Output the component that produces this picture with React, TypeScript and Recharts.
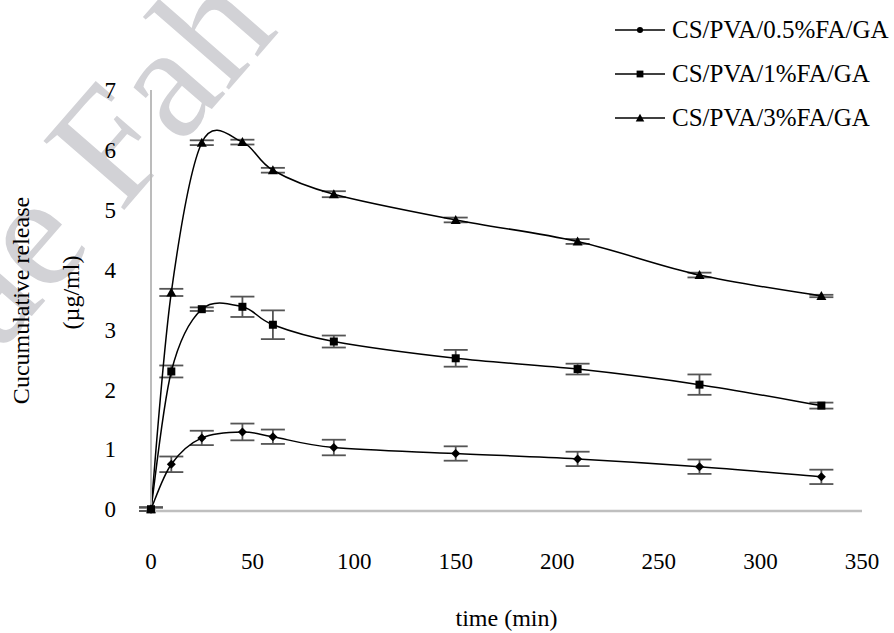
import React from 'react';
import { LineChart, Line, XAxis, YAxis, ErrorBar } from 'recharts';

// sampling times (min)
const times = [0, 10, 25, 45, 60, 90, 150, 210, 270, 330];

// cumulative release (µg/ml) and standard deviations
const fa05 = [0, 0.75, 1.19, 1.29, 1.21, 1.03, 0.93, 0.84, 0.71, 0.54];
const fa05Err = [0.03, 0.13, 0.12, 0.14, 0.12, 0.13, 0.12, 0.12, 0.12, 0.12];
const fa1 = [0, 2.3, 3.34, 3.38, 3.08, 2.8, 2.52, 2.34, 2.08, 1.73];
const fa1Err = [0.03, 0.1, 0.03, 0.17, 0.24, 0.1, 0.14, 0.09, 0.17, 0.05];
const fa3 = [0, 3.62, 6.12, 6.13, 5.66, 5.26, 4.83, 4.47, 3.91, 3.56];
const fa3Err = [0.03, 0.06, 0.04, 0.04, 0.04, 0.05, 0.04, 0.04, 0.04, 0.02];

const xTicks = [0, 50, 100, 150, 200, 250, 300, 350];
const yTicks = [0, 1, 2, 3, 4, 5, 6, 7];

const seriesNames = ['CS/PVA/0.5%FA/GA', 'CS/PVA/1%FA/GA', 'CS/PVA/3%FA/GA'];
const seriesShapes = ['circle', 'square', 'triangle'];

const rows = times.map((t, i) => ({
  time: t,
  fa05: fa05[i],
  fa05Err: fa05Err[i],
  fa1: fa1[i],
  fa1Err: fa1Err[i],
  fa3: fa3[i],
  fa3Err: fa3Err[i],
}));

const FONT = '"Liberation Serif", "Times New Roman", serif';

// Excel-like smoothed line (Catmull-Rom through the points)
const smoothCurve = (context: any) => {
  let pts: number[][] = [];
  return {
    areaStart() {},
    areaEnd() {},
    lineStart() {
      pts = [];
    },
    point(x: number, y: number) {
      pts.push([+x, +y]);
    },
    lineEnd() {
      if (!pts.length) return;
      context.moveTo(pts[0][0], pts[0][1]);
      for (let i = 0; i < pts.length - 1; i++) {
        const p0 = pts[Math.max(i - 1, 0)];
        const p1 = pts[i];
        const p2 = pts[i + 1];
        const p3 = pts[Math.min(i + 2, pts.length - 1)];
        context.bezierCurveTo(
          p1[0] + (p2[0] - p0[0]) / 6,
          p1[1] + (p2[1] - p0[1]) / 6,
          p2[0] - (p3[0] - p1[0]) / 6,
          p2[1] - (p3[1] - p1[1]) / 6,
          p2[0],
          p2[1]
        );
      }
    },
  };
};

const Marker = ({ shape, cx, cy, s = 1 }: { shape: string; cx: number; cy: number; s?: number }) => {
  if (shape === 'square') {
    const h = 4 * s;
    return <rect x={cx - h} y={cy - h} width={h * 2} height={h * 2} fill="#000" />;
  }
  if (shape === 'triangle') {
    const h = 5 * s;
    return <path d={`M${cx},${cy - h} L${cx + h},${cy + h * 0.8} L${cx - h},${cy + h * 0.8} Z`} fill="#000" />;
  }
  if (shape === 'circle') {
    return <circle cx={cx} cy={cy} r={3.6 * s} fill="#000" />;
  }
  const h = 4.5 * s;
  return <path d={`M${cx},${cy - h} L${cx + h},${cy} L${cx},${cy + h} L${cx - h},${cy} Z`} fill="#000" />;
};

const dotFor = (shape: string) => (p: any) => (
  <Marker key={`${shape}-${p.index}`} shape={shape} cx={p.cx} cy={p.cy} />
);

const YTitle = (props: any) => {
  const cy = props.viewBox.y + props.viewBox.height / 2;
  return (
    <g fontFamily={FONT} fontSize={24} fill="#000">
      <text x={29} y={cy} transform={`rotate(-90 29 ${cy})`} textAnchor="middle">
        Cucumulative release
      </text>
      <text x={79} y={cy - 8} transform={`rotate(-90 79 ${cy - 8})`} textAnchor="middle">
        (µg/ml)
      </text>
    </g>
  );
};

const XTitle = (props: any) => {
  const cx = props.viewBox.x + props.viewBox.width / 2;
  return (
    <text x={cx} y={626} textAnchor="middle" fontFamily={FONT} fontSize={24} fill="#000">
      time (min)
    </text>
  );
};

const legendY = [30, 74, 118];

export default function App() {
  return (
    <div style={{ position: 'absolute', left: 0, top: 0, width: 894, height: 633, background: '#fff' }}>
      {/* watermark */}
      <svg width={894} height={633} style={{ position: 'absolute', left: 0, top: 0 }}>
        <text
          x={-95}
          y={462}
          transform="rotate(-49 -95 462)"
          fontFamily={FONT}
          fontSize={162}
          fill="#d2d2d6"
        >
          Mae Fah Luang
        </text>
      </svg>
      <div style={{ position: 'absolute', left: 0, top: 0 }}>
        <LineChart width={894} height={633} data={rows} margin={{ top: 90, right: 32, bottom: 62, left: 91 }}>
          <XAxis
            dataKey="time"
            type="number"
            domain={[0, 350]}
            ticks={xTicks}
            height={60}
            axisLine={{ stroke: '#bfbfbf', strokeWidth: 2.5 }}
            tickLine={false}
            tickSize={0}
            tickMargin={42}
            tick={{ fill: '#000', fontSize: 23, fontFamily: FONT }}
            label={<XTitle />}
          />
          <YAxis
            type="number"
            domain={[0, 7]}
            ticks={yTicks}
            width={60}
            axisLine={{ stroke: '#bcbcbc', strokeWidth: 2 }}
            tickLine={false}
            tickSize={0}
            tickMargin={35}
            tick={{ fill: '#000', fontSize: 23, fontFamily: FONT }}
            label={<YTitle />}
          />
          <Line
            dataKey="fa05"
            type={smoothCurve as any}
            stroke="#000"
            strokeWidth={1.5}
            dot={dotFor('diamond')}
            activeDot={false}
            isAnimationActive={false}
          >
            <ErrorBar dataKey="fa05Err" width={12} stroke="#555" strokeWidth={1.8} direction="y" isAnimationActive={false} />
          </Line>
          <Line
            dataKey="fa1"
            type={smoothCurve as any}
            stroke="#000"
            strokeWidth={1.5}
            dot={dotFor('square')}
            activeDot={false}
            isAnimationActive={false}
          >
            <ErrorBar dataKey="fa1Err" width={12} stroke="#555" strokeWidth={1.8} direction="y" isAnimationActive={false} />
          </Line>
          <Line
            dataKey="fa3"
            type={smoothCurve as any}
            stroke="#000"
            strokeWidth={1.5}
            dot={dotFor('triangle')}
            activeDot={false}
            isAnimationActive={false}
          >
            <ErrorBar dataKey="fa3Err" width={12} stroke="#555" strokeWidth={1.8} direction="y" isAnimationActive={false} />
          </Line>
        </LineChart>
      </div>
      {/* legend */}
      <svg width={894} height={150} style={{ position: 'absolute', left: 0, top: 0 }}>
        {seriesNames.map((name, i) => (
          <g key={name}>
            <line x1={615} x2={665} y1={legendY[i]} y2={legendY[i]} stroke="#000" strokeWidth={1.5} />
            <Marker shape={seriesShapes[i]} cx={640} cy={legendY[i]} s={0.85} />
            <text x={672} y={legendY[i] + 8} fontFamily={FONT} fontSize={25} fill="#000">
              {name}
            </text>
          </g>
        ))}
      </svg>
    </div>
  );
}
